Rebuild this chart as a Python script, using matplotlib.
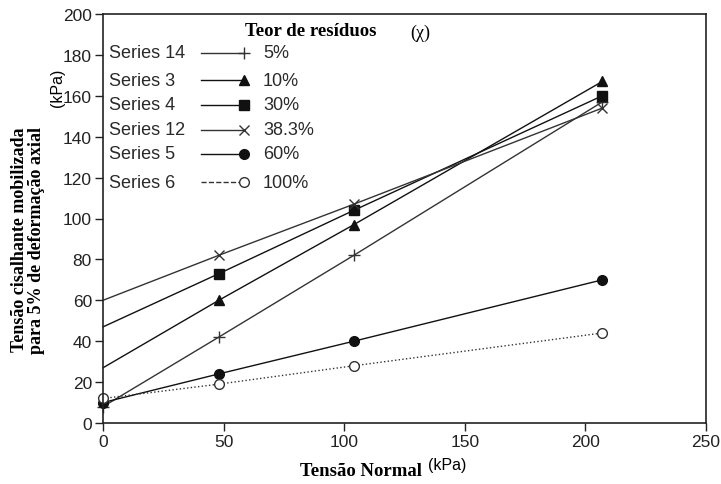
import matplotlib.pyplot as plt

tensao_normal = [0, 48, 104, 207]

s14 = [8, 42, 82, 157]     # 5%
s3 = [27, 60, 97, 167]     # 10%
s4 = [47, 73, 104, 160]    # 30%
s12 = [60, 82, 107, 154]   # 38.3%
s5 = [10, 24, 40, 70]      # 60%
s6 = [12, 19, 28, 44]      # 100%

nomes = ["Series 14", "Series 3", "Series 4", "Series 12", "Series 5", "Series 6"]
teores = ["5%", "10%", "30%", "38.3%", "60%", "100%"]

plt.rcParams["font.family"] = "Liberation Sans"

W, H = 721, 485
fig = plt.figure(figsize=(W / 100, H / 100), dpi=100)
ax = fig.add_axes([103 / W, 1 - 424 / H, 603 / W, 409 / H])

cor = "#333333"
estilos = [
    dict(marker="+", ms=9, mew=1.0, color=cor, ls="-", markevery=[0, 1, 2, 3]),
    dict(marker="^", ms=7, color="#111111", ls="-", markevery=[1, 2, 3]),
    dict(marker="s", ms=7, color="#111111", ls="-", markevery=[1, 2, 3]),
    dict(marker="x", ms=7, mew=1.0, color=cor, ls="-", markevery=[1, 2, 3]),
    dict(marker="o", ms=7, color="#111111", ls="-", markevery=[0, 1, 2, 3]),
    dict(marker="o", ms=7, color="#333333", mfc="white", ls=":", markevery=[0, 1, 2, 3]),
]

for serie, st in zip([s14, s3, s4, s12, s5, s6], estilos):
    ax.plot(tensao_normal, serie, lw=1.0, clip_on=False, **st)

ax.set_xlim(0, 250)
ax.set_ylim(0, 200)
ax.set_xticks(range(0, 251, 50))
ax.set_yticks(range(0, 201, 20))
ax.tick_params(labelsize=12.5, length=6, width=1, colors="#222222", pad=2)
for sp in ax.spines.values():
    sp.set_linewidth(1.2)
    sp.set_color("#222222")

# legenda manual
fig.text(245 / W, 1 - 31 / H, "Teor de resíduos", fontsize=13.5, fontweight="bold",
         family="Liberation Serif", va="center", ha="left")
fig.text(410 / W, 1 - 33 / H, "(χ)", fontsize=13, family="Liberation Serif", va="center")
ys = [54, 81, 106, 131, 155, 183]
for nome, teor, y, st in zip(nomes, teores, ys, estilos):
    fy = 1 - y / H
    fig.text(109 / W, fy, nome, fontsize=13, va="center", color="#2a2a2a")
    st2 = {k: v for k, v in st.items() if k != "markevery"}
    if st2["ls"] == ":":
        st2["ls"] = "--"
    fig.add_artist(plt.Line2D([201 / W, 244 / W], [fy, fy], lw=1.0, markevery=[1], **st2))
    fig.text(263 / W, fy, teor, fontsize=13, va="center", color="#2a2a2a")

# rotulos dos eixos
fig.text(28 / W, 1 - 240 / H, "Tensão cisalhante mobilizada\npara 5% de deformação axial",
         rotation=90, ha="center", va="center", fontsize=13, fontweight="bold",
         family="Liberation Serif", linespacing=1.0)
fig.text(57 / W, 1 - 88 / H, "(kPa)", rotation=90, ha="center", va="center", fontsize=11.5)
fig.text(300 / W, 1 - 472 / H, "Tensão Normal", ha="left", va="center", fontsize=13.5,
         fontweight="bold", family="Liberation Serif")
fig.text(447 / W, 1 - 466 / H, "(kPa)", ha="center", va="center", fontsize=11.5)

plt.savefig("out.png", dpi=100)
